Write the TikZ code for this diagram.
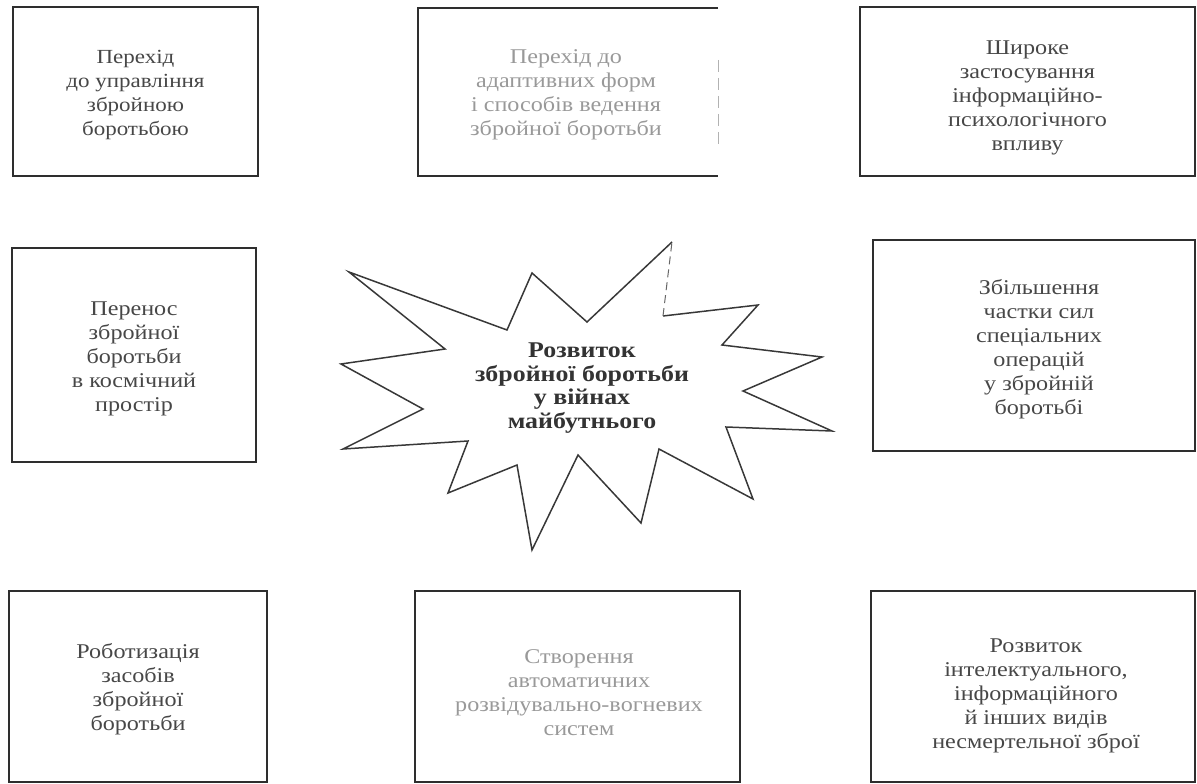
\documentclass[tikz,border=0pt]{standalone}
\usepackage{fontspec}
\setmainfont{Liberation Serif}[FakeStretch=1.15]
\begin{document}
\begin{tikzpicture}[x=1pt,y=-1pt,
  boxtext/.style={align=center,text=black!72,font=\fontsize{21}{24}\selectfont,inner sep=0pt},
  fadedtext/.style={boxtext,text=black!40},
  box/.style={draw=black!82,line width=1.6pt,inner sep=0pt},
  starline/.style={draw=black!78,line width=1.5pt,line join=miter},
  centertext/.style={align=center,text=black!80,font=\fontsize{22.5}{23.5}\selectfont\bfseries,inner sep=0pt}]
\useasboundingbox (0,0) rectangle (1197,784);
% boxes
\node[box,minimum width=245pt,minimum height=169pt] (b1) at (135.5,91.5) {};
\node[boxtext,font=\fontsize{20}{24}\selectfont] (t1) at (135.5,95) {Перехід\\до управління\\збройною\\боротьбою};

\node[minimum width=300pt,minimum height=168pt,inner sep=0pt] (b2) at (568,92) {};
\draw[black!82,line width=1.6pt] (b2.north east) -- (b2.north west) -- (b2.south west) -- (b2.south east);
\draw[black!30,line width=0.8pt,dash pattern=on 12pt off 6pt] ([yshift=-52pt]b2.north east) -- ([yshift=32pt]b2.south east);
\node[fadedtext] (t2) at (566,95) {Перехід до\\адаптивних форм\\і способів ведення\\збройної боротьби};

\node[box,minimum width=335pt,minimum height=169pt] (b3) at (1027.5,91.5) {};
\node[boxtext] (t3) at (1027.5,98) {Широке\\застосування\\інформаційно-\\психологічного\\впливу};

\node[box,minimum width=244pt,minimum height=214pt] (b4) at (134,355) {};
\node[boxtext] (t4) at (134,359) {Перенос\\збройної\\боротьби\\в космічний\\простір};

\node[box,minimum width=322pt,minimum height=211pt] (b6) at (1034,345.5) {};
\node[boxtext] (t6) at (1039,349) {Збільшення\\частки сил\\спеціальних\\операцій\\у збройній\\боротьбі};

\node[box,minimum width=258pt,minimum height=191pt] (b7) at (138,686.5) {};
\node[boxtext] (t7) at (138,689) {Роботизація\\засобів\\збройної\\боротьби};

\node[box,minimum width=325pt,minimum height=191pt] (b8) at (577.5,686.5) {};
\node[fadedtext] (t8) at (579,693) {Створення\\автоматичних\\розвідувально-вогневих\\систем};

\node[box,minimum width=324pt,minimum height=191pt] (b9) at (1033,686.5) {};
\node[boxtext] (t9) at (1036,696) {Розвиток\\інтелектуального,\\інформаційного\\й інших видів\\несмертельної зброї};

% star
\draw[starline] (672,242) -- (587,322) -- (532,273) -- (507,330) -- (349,272) -- (445,349)
  -- (341,364) -- (423,409) -- (343,449) -- (468,441) -- (448,493) -- (517,465)
  -- (532,550) -- (578,455) -- (641,523) -- (659,449) -- (753,499) -- (726,427)
  -- (832,431) -- (743,391) -- (822,357) -- (722,345) -- (758,305) -- (663,316);
\draw[black!60,line width=1pt,dash pattern=on 8pt off 5pt] (663,316) -- (672,242);
\node[centertext] (c) at (582,388) {Розвиток\\збройної боротьби\\у війнах\\майбутнього};
\end{tikzpicture}
\end{document}
